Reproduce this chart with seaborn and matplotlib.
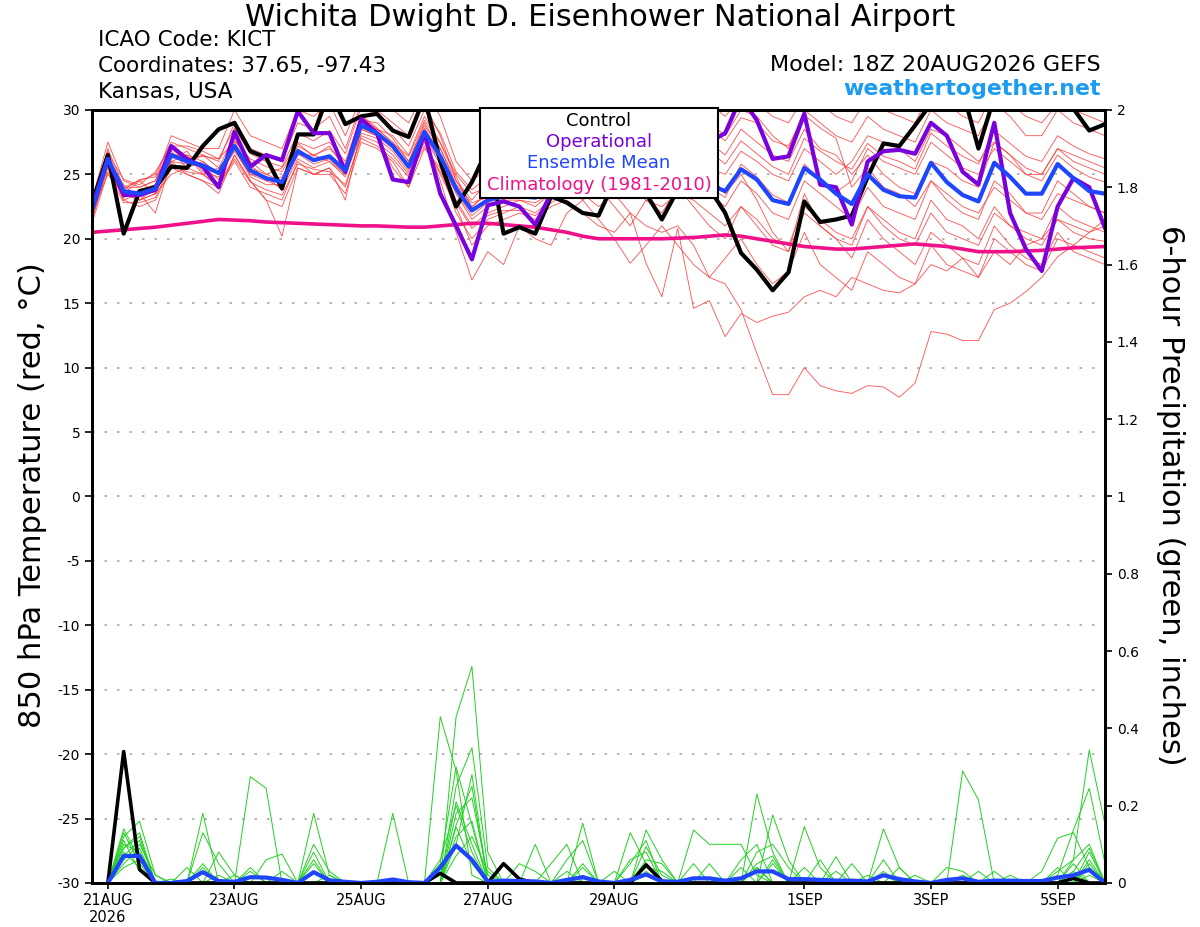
import numpy as np
import pandas as pd
import matplotlib
matplotlib.use("Agg")
import matplotlib.pyplot as plt
from matplotlib.patches import Rectangle
import seaborn as sns

# 6-hourly valid times of the GEFS run (18Z 20AUG2026 .. 18Z 05SEP2026)
times = pd.date_range("2026-08-20 18:00", periods=65, freq="6h")
precip_times = times[1:]

tick_dates = ["2026-08-21", "2026-08-23", "2026-08-25", "2026-08-27",
              "2026-08-29", "2026-09-01", "2026-09-03", "2026-09-05"]
tick_labels = ["21AUG\n2026", "23AUG", "25AUG", "27AUG", "29AUG", "1SEP", "3SEP", "5SEP"]

# 850 hPa temperature (C)
control_t = [22.8, 26.5, 20.4, 23.7, 24.0, 25.6, 25.5, 27.2,
             28.5, 29.0, 26.8, 26.3, 23.9, 28.1, 28.1, 31.5,
             28.9, 29.5, 29.7, 28.4, 27.9, 31.0, 26.0, 22.5,
             24.4, 27.0, 20.4, 20.9, 20.4, 23.3, 22.8, 22.0,
             21.8, 24.5, 25.5, 23.5, 21.5, 23.8, 24.5, 23.9,
             22.0, 18.9, 17.6, 16.0, 17.4, 22.9, 21.3, 21.5,
             21.8, 24.8, 27.4, 27.2, 28.8, 30.5, 32.0, 31.5,
             27.0, 31.0, 32.0, 32.5, 32.0, 31.0, 30.1, 28.4,
             28.9]
operational_t = [22.5, 26.2, 23.4, 23.4, 23.8, 27.2, 26.2, 25.6,
                 24.0, 28.3, 25.6, 26.5, 26.1, 29.9, 28.2, 28.2,
                 25.2, 29.3, 28.2, 24.6, 24.4, 28.2, 23.5, 21.0,
                 18.4, 22.6, 22.9, 22.5, 21.1, 23.5, 25.0, 25.5,
                 25.0, 25.5, 26.0, 25.0, 24.5, 26.0, 26.5, 27.5,
                 28.2, 31.0, 29.2, 26.2, 26.4, 29.7, 24.2, 24.0,
                 21.1, 26.0, 26.8, 26.9, 26.6, 29.0, 28.0, 25.2,
                 24.2, 29.0, 22.0, 19.2, 17.5, 22.5, 24.7, 24.0,
                 20.8]
mean_t = [22.2, 26.2, 23.7, 23.5, 23.9, 26.5, 26.0, 25.7,
          25.1, 27.2, 25.3, 24.7, 24.4, 26.8, 26.1, 26.4,
          25.3, 28.8, 28.2, 27.2, 25.6, 28.3, 26.4, 23.9,
          22.2, 23.0, 23.3, 23.3, 23.2, 23.8, 24.3, 24.6,
          24.5, 24.8, 25.0, 24.6, 24.4, 25.0, 25.3, 24.2,
          23.7, 25.4, 24.6, 23.0, 22.7, 25.5, 24.6, 23.5,
          22.7, 25.0, 23.8, 23.3, 23.2, 25.9, 24.4, 23.4,
          22.9, 25.9, 24.8, 23.5, 23.5, 25.8, 24.7, 23.7,
          23.5]
climo_t = [20.5, 20.6, 20.7, 20.8, 20.9, 21.05, 21.2, 21.35,
           21.5, 21.45, 21.4, 21.3, 21.25, 21.2, 21.15, 21.1,
           21.05, 21.0, 21.0, 20.95, 20.9, 20.9, 21.0, 21.1,
           21.2, 21.2, 21.1, 21.0, 20.9, 20.7, 20.5, 20.2,
           20.0, 20.0, 20.0, 20.0, 20.0, 20.05, 20.1, 20.2,
           20.3, 20.2, 20.0, 19.8, 19.6, 19.4, 19.3, 19.2,
           19.2, 19.3, 19.4, 19.5, 19.6, 19.5, 19.4, 19.2,
           19.0, 19.0, 19.0, 19.05, 19.1, 19.2, 19.3, 19.35,
           19.4]

member_t1 = [22.5, 27.0, 24.0, 24.5, 25.0, 27.5, 27.0, 26.5,
             26.0, 29.0, 27.0, 26.5, 26.0, 29.0, 28.5, 29.5,
             27.0, 30.5, 30.0, 29.0, 28.0, 30.5, 28.0, 24.5,
             23.0, 24.5, 25.5, 26.0, 25.5, 27.0, 28.0, 28.5,
             28.0, 29.0, 30.0, 29.0, 28.5, 29.5, 30.5, 29.0,
             28.0, 30.0, 29.5, 28.0, 27.0, 30.0, 29.0, 28.0,
             27.5, 29.5, 28.5, 28.0, 27.5, 30.0, 29.0, 28.5,
             28.0, 30.5, 29.5, 28.0, 28.0, 30.0, 29.0, 28.5,
             28.0]
member_t2 = [21.5, 25.5, 23.0, 22.5, 23.0, 25.5, 25.0, 24.5,
             23.5, 26.5, 24.5, 23.0, 22.5, 25.5, 25.0, 25.0,
             23.5, 27.5, 27.0, 26.0, 24.0, 27.0, 25.5, 22.0,
             20.0, 21.5, 22.0, 22.5, 22.0, 23.0, 24.0, 23.5,
             22.5, 23.5, 22.0, 21.0, 20.5, 21.0, 19.5, 17.0,
             16.5, 14.5, 11.1, 7.9, 7.9, 10.0, 8.6, 8.2,
             8.0, 8.6, 8.5, 7.7, 8.8, 12.8, 12.6, 12.1,
             12.1, 14.5, 15.0, 15.9, 17.0, 18.6, 19.5, 20.5,
             21.0]
member_t3 = [22.0, 25.0, 23.5, 23.0, 23.5, 25.0, 25.5, 25.0,
             24.0, 26.0, 24.0, 23.5, 23.0, 26.0, 25.0, 25.5,
             24.0, 28.0, 27.5, 26.5, 25.0, 27.5, 25.0, 22.5,
             19.5, 21.0, 21.5, 22.0, 21.5, 22.5, 23.0, 22.0,
             21.0, 20.5, 22.0, 18.1, 15.5, 20.8, 14.6, 15.2,
             12.4, 14.2, 13.5, 14.0, 14.3, 15.5, 16.0, 15.5,
             17.0, 16.5, 16.0, 15.8, 16.5, 18.0, 17.5, 18.5,
             17.0, 19.0, 18.0, 19.5, 20.0, 21.5, 21.0, 20.5,
             21.5]
member_t4 = [22.0, 26.0, 23.0, 23.5, 22.0, 26.0, 25.0, 24.5,
             24.0, 26.5, 24.5, 23.0, 20.2, 25.5, 25.0, 25.5,
             23.0, 28.5, 28.0, 25.5, 24.0, 28.0, 24.5, 20.5,
             16.8, 19.0, 18.0, 21.0, 20.0, 19.5, 22.0, 23.0,
             24.0, 22.5, 21.0, 23.0, 22.0, 24.0, 22.5, 21.0,
             20.0, 22.5, 21.0, 19.5, 19.0, 22.0, 21.0, 20.0,
             19.5, 22.5, 21.5, 20.5, 20.0, 23.0, 21.5, 21.0,
             20.0, 22.5, 21.0, 20.5, 20.0, 22.5, 21.5, 21.0,
             20.5]
member_t5 = [23.0, 27.5, 24.5, 24.0, 24.5, 28.0, 27.5, 27.0,
             27.0, 30.0, 28.0, 27.5, 27.0, 30.0, 29.5, 30.5,
             28.0, 31.0, 31.0, 30.0, 29.0, 31.5, 29.5, 26.0,
             24.5, 25.5, 26.5, 27.5, 27.0, 28.5, 29.0, 30.0,
             29.5, 30.5, 31.0, 30.5, 30.0, 31.0, 31.0, 30.5,
             29.5, 31.0, 30.5, 29.5, 29.0, 31.0, 30.5, 29.5,
             29.0, 31.0, 30.0, 29.5, 29.0, 31.5, 30.5, 29.5,
             29.0, 31.5, 30.5, 29.5, 29.0, 30.5, 30.0, 29.5,
             29.0]
member_t6 = [21.8, 26.5, 23.5, 23.0, 24.0, 26.5, 26.5, 26.0,
             25.0, 27.5, 25.5, 25.0, 24.5, 27.0, 26.0, 26.5,
             25.5, 29.0, 28.5, 27.5, 26.0, 29.0, 27.0, 24.5,
             22.5, 23.5, 23.0, 24.0, 23.5, 24.5, 25.5, 26.0,
             25.0, 25.5, 26.5, 25.5, 26.0, 27.0, 26.5, 25.0,
             23.5, 25.0, 23.0, 20.5, 19.0, 23.5, 21.0, 20.0,
             18.5, 21.5, 20.0, 19.0, 18.0, 20.5, 19.5, 18.5,
             18.0, 21.0, 19.5, 18.5, 18.0, 20.5, 19.0, 18.5,
             18.0]
member_t7 = [22.3, 25.8, 24.0, 24.0, 24.5, 27.0, 26.0, 26.5,
             25.5, 28.0, 26.0, 25.0, 25.5, 27.5, 27.0, 27.5,
             26.0, 29.5, 28.5, 28.0, 26.5, 29.5, 27.5, 25.0,
             23.5, 24.0, 25.0, 24.5, 24.0, 25.5, 27.0, 27.5,
             27.0, 27.5, 28.5, 27.0, 27.5, 28.0, 29.0, 27.5,
             26.5, 28.5, 27.5, 26.5, 26.0, 28.5, 27.0, 26.5,
             25.0, 26.5, 25.0, 24.0, 23.5, 26.0, 25.5, 24.5,
             24.0, 27.5, 26.5, 25.5, 25.0, 27.0, 26.5, 26.0,
             25.5]
member_t8 = [22.0, 26.0, 23.5, 24.5, 23.5, 26.0, 26.5, 25.0,
             25.5, 27.0, 25.0, 24.5, 24.0, 26.5, 26.5, 26.0,
             25.0, 28.5, 28.0, 27.0, 25.5, 28.0, 26.0, 23.5,
             21.5, 22.5, 23.0, 23.0, 22.5, 23.5, 24.0, 23.0,
             21.5, 20.0, 18.1, 19.5, 21.0, 19.5, 18.0, 17.0,
             18.5, 20.0, 18.0, 16.5, 17.5, 20.5, 18.0, 17.0,
             16.0, 19.0, 18.0, 17.0, 16.5, 19.5, 18.0, 17.5,
             17.0, 20.0, 19.0, 18.0, 17.5, 20.0, 19.5, 19.0,
             18.5]
member_t9 = [22.6, 26.8, 23.2, 23.8, 24.2, 26.8, 25.5, 26.0,
             25.0, 27.8, 25.8, 24.5, 24.8, 27.2, 26.5, 27.0,
             25.8, 29.2, 29.0, 27.8, 26.0, 28.8, 27.0, 24.2,
             22.8, 23.2, 24.0, 24.2, 23.8, 24.5, 25.0, 25.5,
             25.8, 26.0, 26.2, 25.8, 25.2, 26.0, 26.5, 25.5,
             25.0, 26.8, 26.0, 25.0, 24.5, 27.0, 26.0, 25.0,
             26.0, 28.0, 27.5, 27.0, 26.0, 28.5, 28.0, 27.0,
             26.0, 27.5, 26.5, 25.0, 25.0, 27.0, 26.0, 25.5,
             25.0]
member_t10 = [21.5, 26.0, 24.2, 23.0, 23.5, 26.2, 26.8, 25.2,
              24.8, 26.8, 25.0, 24.8, 23.8, 26.2, 25.5, 26.0,
              24.8, 28.2, 27.8, 26.8, 25.2, 27.8, 25.8, 23.0,
              21.0, 22.0, 22.5, 23.0, 22.8, 23.5, 24.0, 24.5,
              24.0, 24.5, 25.0, 24.0, 23.5, 24.5, 24.0, 23.5,
              22.5, 24.5, 23.5, 22.0, 21.5, 24.5, 23.5, 22.5,
              21.5, 24.0, 22.5, 22.0, 21.5, 24.5, 23.0, 22.0,
              21.5, 24.5, 23.5, 22.0, 22.0, 24.5, 23.5, 22.5,
              22.0]
member_t11 = [22.8, 26.6, 24.6, 24.2, 25.2, 27.2, 27.2, 26.8,
              26.2, 28.6, 26.6, 26.0, 25.6, 28.2, 27.6, 28.4,
              26.6, 30.2, 29.6, 28.6, 27.2, 30.0, 28.2, 25.2,
              23.8, 24.8, 25.8, 25.6, 25.2, 26.4, 27.6, 28.2,
              28.4, 29.2, 29.6, 28.4, 28.0, 29.0, 29.8, 28.6,
              27.6, 29.4, 29.0, 27.6, 27.2, 29.6, 28.6, 27.8,
              24.0, 25.5, 24.0, 23.5, 22.5, 24.5, 23.5, 22.5,
              22.0, 24.0, 23.0, 22.0, 21.5, 23.5, 23.0, 22.5,
              22.0]
member_t12 = [21.2, 25.2, 22.8, 22.8, 23.2, 25.8, 25.2, 25.0,
              24.2, 26.2, 24.4, 23.8, 23.4, 25.8, 25.4, 25.2,
              24.2, 27.8, 27.2, 26.2, 24.8, 27.2, 25.2, 22.8,
              20.8, 21.8, 22.2, 22.2, 21.8, 22.8, 23.5, 24.0,
              23.5, 24.0, 24.0, 23.0, 22.5, 23.5, 23.0, 22.0,
              21.0, 22.5, 21.5, 20.0, 19.5, 22.5, 21.5, 20.5,
              20.0, 22.5, 21.0, 20.0, 19.5, 22.0, 20.5, 20.0,
              19.5, 22.0, 21.0, 20.0, 19.5, 21.5, 20.5, 20.0,
              19.8]
member_t13 = [22.4, 26.4, 23.8, 24.6, 24.8, 26.6, 26.2, 26.4,
              26.2, 27.6, 26.2, 25.6, 25.2, 27.4, 26.4, 27.2,
              25.4, 29.6, 28.6, 27.4, 26.4, 29.2, 27.4, 24.8,
              22.4, 23.8, 24.4, 24.8, 24.2, 25.2, 26.2, 26.8,
              26.2, 27.0, 27.6, 26.6, 27.0, 27.6, 28.0, 26.8,
              25.8, 27.6, 26.6, 25.6, 25.0, 27.8, 26.8, 26.0,
              25.4, 27.4, 26.4, 26.0, 25.4, 28.2, 27.2, 26.4,
              25.8, 28.4, 27.4, 26.4, 26.0, 28.0, 27.2, 26.6,
              26.2]
member_t14 = [21.8, 25.6, 23.4, 23.4, 24.2, 26.0, 25.8, 25.6,
              24.6, 27.0, 24.8, 24.2, 24.2, 26.6, 25.8, 26.2,
              25.0, 28.6, 28.2, 27.2, 25.4, 28.6, 26.6, 23.6,
              21.8, 22.8, 23.4, 23.6, 23.4, 24.2, 24.8, 25.2,
              25.0, 25.2, 25.8, 24.4, 24.0, 25.2, 25.6, 24.0,
              23.2, 25.8, 24.8, 23.4, 22.8, 25.8, 24.6, 23.6,
              24.5, 27.0, 26.0, 25.5, 25.0, 27.5, 26.5, 25.5,
              25.0, 27.0, 26.0, 25.0, 24.5, 26.5, 25.5, 24.8,
              24.4]

# 6-hour precipitation (inches), valid 00Z 21AUG .. 18Z 05SEP
control_p = [0, .34, .035, 0, 0, 0, 0, 0,
             0, 0, 0, 0, 0, 0, 0, 0,
             0, 0, 0, 0, 0, .025, 0, 0,
             0, .05, .01, 0, 0, 0, 0, 0,
             0, 0, .047, .005, 0, 0, 0, 0,
             0, 0, 0, 0, 0, 0, 0, 0,
             0, 0, 0, 0, 0, 0, 0, 0,
             0, 0, 0, 0, 0, .012, 0, 0]
mean_p = [0, .07, .07, 0, 0, .005, .028, .005,
          .003, .015, .014, .008, 0, .028, .007, .003,
          0, .003, .009, .002, 0, .04, .097, .06,
          .003, .006, .005, .004, 0, .008, .015, .004,
          0, .008, .022, .004, .003, .012, .012, .006,
          .012, .03, .03, .01, .01, .008, .006, .006,
          .004, .02, .01, .004, 0, .008, .012, .003,
          .006, .006, .005, .005, .014, .02, .034, 0]

member_p1 = [0, .14, .06, 0, 0, 0, 0, 0,
             0, .275, .245, 0, 0, .03, 0, 0,
             0, 0, 0, 0, 0, 0, .21, .10,
             0, 0, 0, 0, 0, 0, .02, 0,
             0, 0, 0, 0, 0, 0, 0, 0,
             0, .04, 0, 0, 0, 0, 0, 0,
             0, 0, 0, 0, 0, 0, .29, .215,
             0, 0, 0, 0, 0, .03, 0, 0]
member_p2 = [0, .12, .16, .02, 0, 0, .18, 0,
             0, 0, 0, 0, 0, 0, 0, 0,
             0, 0, 0, 0, 0, .43, .29, .02,
             0, 0, 0, 0, 0, .01, 0, 0,
             0, 0, .02, 0, 0, 0, 0, 0,
             0, .23, .08, 0, 0, 0, 0, 0,
             0, .02, 0, 0, 0, 0, 0, 0,
             0, 0, 0, 0, .03, .06, .344, .15]
member_p3 = [0, .10, .08, 0, 0, 0, .13, .05,
             0, 0, 0, 0, 0, .18, .02, 0,
             0, 0, 0, 0, 0, 0, .43, .56,
             .08, 0, 0, 0, 0, 0, .155, 0,
             0, 0, .137, .06, 0, 0, 0, 0,
             0, 0, .176, .06, 0, 0, 0, 0,
             0, 0, 0, 0, 0, 0, 0, 0,
             0, 0, 0, 0, 0, 0, .02, 0]
member_p4 = [0, .09, .12, 0, 0, .04, 0, .08,
             .02, 0, 0, 0, 0, 0, 0, 0,
             0, 0, .18, 0, 0, 0, .15, .25,
             0, 0, 0, 0, 0, 0, 0, 0,
             0, 0, 0, 0, 0, .137, .10, .10,
             .10, .02, 0, 0, 0, 0, 0, 0,
             0, 0, 0, 0, 0, 0, 0, 0,
             0, 0, 0, 0, .02, .137, .245, .05]
member_p5 = [0, .13, .05, 0, 0, 0, 0, 0,
             0, 0, .06, .075, 0, .10, .03, 0,
             0, 0, 0, 0, 0, 0, .145, .05,
             0, 0, 0, .10, 0, 0, 0, 0,
             0, .13, .05, 0, 0, 0, 0, 0,
             0, 0, 0, 0, .146, .04, 0, 0,
             0, 0, 0, 0, 0, 0, 0, 0,
             0, 0, 0, .03, .116, .13, .04, 0]
member_p6 = [0, .07, .11, 0, 0, 0, .05, 0,
             0, 0, 0, 0, 0, .08, 0, 0,
             0, 0, 0, 0, 0, .05, .30, .15,
             0, 0, 0, 0, 0, .06, .11, 0,
             0, 0, .094, .02, 0, 0, 0, 0,
             0, .08, .10, .04, 0, 0, 0, 0,
             0, .14, .04, 0, 0, 0, 0, 0,
             0, 0, 0, 0, 0, 0, .06, 0]
member_p7 = [0, .05, .09, 0, 0, 0, .04, 0,
             0, .04, 0, 0, 0, .05, 0, 0,
             0, 0, 0, 0, 0, 0, .18, .22,
             .02, 0, 0, 0, .05, .10, 0, 0,
             0, 0, .06, .05, 0, 0, 0, 0,
             .06, .10, 0, 0, 0, 0, .068, 0,
             0, 0, 0, 0, 0, .04, .03, 0,
             0, 0, 0, 0, 0, .05, 0, 0]
member_p8 = [0, .11, .03, 0, 0, 0, 0, 0,
             .02, 0, 0, 0, 0, .06, 0, 0,
             0, 0, 0, 0, 0, 0, .25, .35,
             .04, 0, 0, 0, 0, 0, .05, 0,
             0, .06, .08, 0, 0, 0, .05, 0,
             0, 0, 0, 0, 0, .06, 0, .05,
             0, .06, 0, 0, 0, 0, 0, 0,
             0, 0, 0, 0, .04, 0, .08, 0]
member_p9 = [0, .04, .06, 0, 0, 0, .03, 0,
             0, 0, 0, .03, 0, 0, 0, 0,
             0, 0, 0, 0, 0, 0, .10, .28,
             0, 0, .05, .03, 0, 0, 0, 0,
             0, 0, .04, .03, 0, 0, 0, 0,
             0, .05, .07, 0, 0, 0, 0, 0,
             .02, 0, 0, 0, 0, 0, 0, 0,
             .03, 0, 0, 0, 0, 0, .05, 0]
member_p10 = [0, .08, .04, 0, .01, 0, 0, 0,
              0, .03, 0, 0, 0, .03, 0, 0,
              0, 0, 0, 0, 0, .06, .20, .08,
              0, 0, 0, 0, 0, .03, 0, 0,
              0, .05, .11, 0, 0, 0, 0, 0,
              .04, 0, .05, 0, 0, 0, 0, 0,
              0, 0, .04, 0, 0, 0, 0, .03,
              0, 0, 0, 0, 0, .06, .10, 0]
member_p11 = [0, .06, .10, .02, 0, 0, 0, 0,
              0, 0, 0, 0, 0, 0, .02, 0,
              0, 0, 0, 0, 0, 0, .12, .16,
              0, 0, 0, 0, 0, 0, .04, 0,
              0, 0, 0, 0, 0, .05, 0, 0,
              0, .04, 0, 0, .04, 0, 0, 0,
              0, .03, 0, .02, 0, 0, 0, 0,
              0, .02, 0, 0, 0, 0, .04, 0]
member_p12 = [.02, .09, .13, 0, 0, 0, 0, .02,
              0, 0, 0, 0, 0, 0, 0, 0,
              0, 0, 0, 0, 0, 0, .07, .12,
              .03, 0, 0, 0, 0, 0, 0, 0,
              .03, 0, .03, 0, 0, 0, 0, 0,
              0, 0, .06, 0, 0, 0, .03, 0,
              0, 0, 0, 0, 0, 0, .02, 0,
              0, 0, 0, 0, 0, .03, .09, 0]

temp_members = [member_t1, member_t2, member_t3, member_t4, member_t5, member_t6, member_t7,
                member_t8, member_t9, member_t10, member_t11, member_t12, member_t13, member_t14]
precip_members = [member_p1, member_p2, member_p3, member_p4, member_p5, member_p6,
                  member_p7, member_p8, member_p9, member_p10, member_p11, member_p12]


def long_frame(members, t, name):
    """Stack ensemble members into one long table for seaborn."""
    parts = [pd.DataFrame({"time": t, name: vals, "member": k}) for k, vals in enumerate(members)]
    return pd.concat(parts, ignore_index=True)


temp_df = long_frame(temp_members, times, "temp")
precip_df = long_frame(precip_members, precip_times, "precip")

sns.set_style("white")
plt.rcParams["font.family"] = ["DejaVu Sans"]
plt.rcParams["axes.unicode_minus"] = False
for key in ["text.color", "axes.labelcolor", "xtick.color", "ytick.color"]:
    plt.rcParams[key] = "black"

fig = plt.figure(figsize=(12, 9.27), dpi=100)
ax = fig.add_axes([0.0767, 0.0475, 0.8442, 0.8339])

# temperature spaghetti + highlighted runs
sns.lineplot(data=temp_df, x="time", y="temp", units="member", estimator=None,
             color="#ff3030", lw=0.6, alpha=0.85, legend=False, ax=ax)
sns.lineplot(x=times, y=climo_t, estimator=None, color="#f0108a", lw=2.6, ax=ax)
sns.lineplot(x=times, y=control_t, estimator=None, color="black", lw=3, ax=ax)
sns.lineplot(x=times, y=operational_t, estimator=None, color="#7a00dc", lw=3, ax=ax)
sns.lineplot(x=times, y=mean_t, estimator=None, color="#1f45ff", lw=3, ax=ax)

ax.set_ylim(-30, 30)
ax.set_yticks(np.arange(-30, 31, 5))
ax.set_xlim(times[0], times[-1])
ax.set_xticks(pd.to_datetime(tick_dates))
ax.set_xticklabels(tick_labels, fontsize=10.5, multialignment="center")
ax.set_xlabel("")
ax.set_ylabel("")
ax.tick_params(axis="y", labelsize=10, length=5, width=1.2, direction="out", left=True)
ax.tick_params(axis="x", length=4, width=1.2, direction="out", bottom=True, pad=3)
ax.yaxis.grid(True, linestyle=(0, (1.5, 6)), color="#a8a8a8", lw=1.2)
ax.set_axisbelow(True)
for side in ["left", "right", "top", "bottom"]:
    ax.spines[side].set_color("black")
    ax.spines[side].set_linewidth(2)

# precipitation on the right axis
ax2 = ax.twinx()
sns.lineplot(data=precip_df, x="time", y="precip", units="member", estimator=None,
             color="#22d022", lw=0.7, legend=False, ax=ax2)
sns.lineplot(x=precip_times, y=control_p, estimator=None, color="black", lw=2.6, ax=ax2)
sns.lineplot(x=precip_times, y=mean_p, estimator=None, color="#1f45ff", lw=3, ax=ax2)
ax2.set_ylim(0, 2)
p_ticks = np.round(np.arange(0, 2.01, 0.2), 1)
ax2.set_yticks(p_ticks)
ax2.set_yticklabels([f"{v:g}" for v in p_ticks])
ax2.set_ylabel("")
ax2.grid(False)
ax2.tick_params(axis="y", labelsize=10, length=5, width=1.2, direction="out", right=True)
ax2.set_xlim(times[0], times[-1])
for side in ["left", "right", "top", "bottom"]:
    ax2.spines[side].set_color("black")
    ax2.spines[side].set_linewidth(2)

# axis titles
fig.text(33 / 1200, 1 - 495 / 927, "850 hPa Temperature (red, \u00b0C)", rotation=90,
         ha="center", va="center", fontsize=22)
fig.text(1170 / 1200, 1 - 495 / 927, "6-hour Precipitation (green, inches)", rotation=270,
         ha="center", va="center", fontsize=22)

# header texts
fig.text(0.5, 1 - 18 / 927, "Wichita Dwight D. Eisenhower National Airport",
         ha="center", va="center", fontsize=22)
fig.text(98 / 1200, 1 - 40 / 927, "ICAO Code: KICT", ha="left", va="center", fontsize=15.5)
fig.text(98 / 1200, 1 - 66 / 927, "Coordinates: 37.65, -97.43", ha="left", va="center", fontsize=15.5)
fig.text(98 / 1200, 1 - 92 / 927, "Kansas, USA", ha="left", va="center", fontsize=15.5)
fig.text(1101 / 1200, 1 - 65 / 927, "Model: 18Z 20AUG2026 GEFS", ha="right", va="center", fontsize=16)
fig.text(1101 / 1200, 1 - 89 / 927, "weathertogether.net", ha="right", va="center",
         fontsize=15.8, fontweight="bold", color="#1a9cf2")

# legend box
fig.patches.append(Rectangle((480 / 1200, 1 - 198 / 927), 238 / 1200, 90 / 927,
                             transform=fig.transFigure, facecolor="white",
                             edgecolor="black", lw=1.5, zorder=5))
legend_items = [("Control", "black", 121), ("Operational", "#7a00dc", 142),
                ("Ensemble Mean", "#1f45ff", 163), ("Climatology (1981-2010)", "#f0108a", 185)]
for label, col, ypix in legend_items:
    fig.text(599 / 1200, 1 - ypix / 927, label, ha="center", va="center",
             fontsize=13, color=col, zorder=6)

fig.savefig("out.png", dpi=100)
